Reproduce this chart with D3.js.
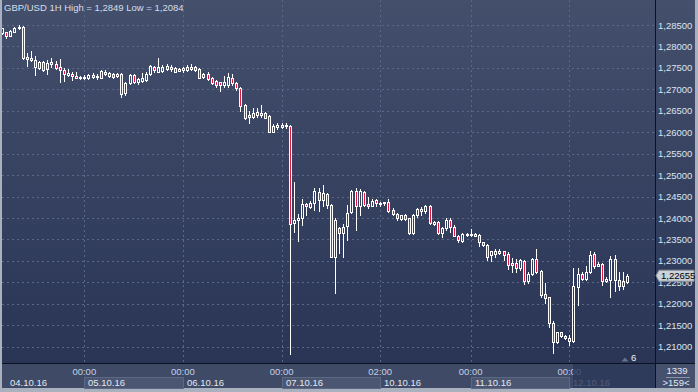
<!DOCTYPE html>
<html><head><meta charset="utf-8">
<script src="https://cdn.jsdelivr.net/npm/d3@7/dist/d3.min.js"></script>
<style>html,body{margin:0;padding:0;background:#a9b1be;}svg{display:block;}text{font-family:"Liberation Sans",Arial,sans-serif;}</style>
</head><body><svg id="c" width="698" height="392"></svg>
<script>
const title = "GBP/USD 1H High = 1,2849 Low = 1,2084";
const firstIndex = -20; // hours relative to 05.10.16 00:00
const opens = [1.2831,1.2833,1.2825,1.2834,1.2842,1.2846,1.2771,1.2774,1.2768,1.2749,1.2763,1.2747,1.2763,1.2759,1.2751,1.2744,1.2733,1.2735,1.2730,1.2727,
1.2727,1.2727,1.2733,1.2728,1.2727,1.2741,1.2731,1.2735,1.2730,1.2736,1.2691,1.2714,1.2733,1.2716,1.2720,1.2721,1.2735,1.2753,1.2741,1.2743,1.2747,1.2747,1.2750,1.2743,
1.2744,1.2745,1.2747,1.2751,1.2747,1.2729,1.2736,1.2726,1.2720,1.2716,1.2709,1.2709,1.2726,1.2714,1.2704,1.2664,1.2635,1.2635,1.2640,1.2640,1.2644,1.2638,1.2601,1.2613,
1.2613,1.2617,1.2614,1.2388,1.2396,1.2400,1.2432,1.2425,1.2435,1.2460,1.2442,1.2456,1.2431,1.2310,1.2376,1.2365,1.2382,1.2414,1.2463,1.2427,1.2460,1.2433,1.2429,1.2441,
1.2436,1.2434,1.2438,1.2419,1.2409,1.2398,1.2407,1.2400,1.2365,1.2406,1.2417,1.2417,1.2428,1.2386,1.2390,1.2365,1.2376,1.2396,1.2380,1.2358,1.2347,1.2361,
1.2361,1.2363,1.2361,1.2343,1.2337,1.2314,1.2317,1.2319,1.2322,1.2317,1.2296,1.2296,1.2283,1.2300,1.2254,1.2270,1.2304,1.2277,1.2223,1.2216,1.2156,1.2112,1.2134,1.2125,
1.2114,1.2114,1.2240,1.2270,1.2258,1.2273,1.2316,1.2289,1.2292,1.2254,1.2256,1.2304,1.2256,1.2242,1.2252];
const highs = [1.2843,1.2834,1.2838,1.2845,1.2849,1.2848,1.2785,1.2789,1.2778,1.2765,1.2766,1.2768,1.2774,1.2765,1.2771,1.2750,1.2747,1.2741,1.2740,1.2732,
1.2733,1.2736,1.2737,1.2735,1.2745,1.2745,1.2740,1.2738,1.2739,1.2739,1.2718,1.2736,1.2736,1.2727,1.2737,1.2741,1.2757,1.2755,1.2772,1.2757,1.2758,1.2757,1.2753,1.2750,
1.2751,1.2757,1.2758,1.2754,1.2749,1.2737,1.2741,1.2728,1.2722,1.2718,1.2730,1.2737,1.2735,1.2718,1.2706,1.2665,1.2650,1.2656,1.2657,1.2664,1.2647,1.2640,1.2619,1.2621,
1.2622,1.2621,1.2617,1.2484,1.2409,1.2445,1.2435,1.2440,1.2469,1.2471,1.2477,1.2459,1.2433,1.2400,1.2380,1.2386,1.2431,1.2466,1.2469,1.2468,1.2462,1.2448,1.2445,1.2445,
1.2438,1.2438,1.2445,1.2423,1.2411,1.2408,1.2409,1.2401,1.2409,1.2424,1.2426,1.2431,1.2431,1.2392,1.2392,1.2380,1.2400,1.2400,1.2384,1.2361,1.2365,1.2364,
1.2374,1.2365,1.2363,1.2345,1.2340,1.2324,1.2327,1.2327,1.2324,1.2320,1.2306,1.2304,1.2304,1.2302,1.2273,1.2306,1.2327,1.2279,1.2248,1.2217,1.2159,1.2135,1.2135,1.2128,
1.2128,1.2283,1.2283,1.2275,1.2287,1.2322,1.2320,1.2298,1.2295,1.2262,1.2312,1.2314,1.2275,1.2275,1.2270];
const lows = [1.2829,1.2819,1.2824,1.2833,1.2841,1.2771,1.2755,1.2766,1.2733,1.2747,1.2743,1.2736,1.2753,1.2747,1.2716,1.2720,1.2730,1.2721,1.2726,1.2724,
1.2724,1.2724,1.2726,1.2724,1.2726,1.2733,1.2728,1.2727,1.2728,1.2683,1.2687,1.2713,1.2714,1.2713,1.2717,1.2719,1.2733,1.2741,1.2740,1.2740,1.2745,1.2743,1.2740,1.2742,
1.2741,1.2743,1.2745,1.2743,1.2726,1.2727,1.2722,1.2712,1.2706,1.2695,1.2706,1.2706,1.2710,1.2699,1.2650,1.2631,1.2621,1.2633,1.2636,1.2636,1.2633,1.2600,1.2600,1.2608,
1.2609,1.2609,1.2084,1.2368,1.2347,1.2384,1.2407,1.2423,1.2419,1.2417,1.2427,1.2424,1.2309,1.2225,1.2318,1.2310,1.2349,1.2411,1.2372,1.2407,1.2429,1.2423,1.2427,1.2429,
1.2427,1.2431,1.2415,1.2407,1.2396,1.2396,1.2396,1.2362,1.2362,1.2403,1.2406,1.2411,1.2386,1.2384,1.2362,1.2355,1.2372,1.2368,1.2357,1.2345,1.2345,1.2357,
1.2358,1.2357,1.2335,1.2334,1.2302,1.2299,1.2310,1.2317,1.2302,1.2281,1.2275,1.2275,1.2279,1.2247,1.2248,1.2267,1.2271,1.2217,1.2202,1.2147,1.2086,1.2108,1.2122,1.2118,
1.2104,1.2112,1.2198,1.2256,1.2256,1.2271,1.2283,1.2287,1.2244,1.2250,1.2216,1.2229,1.2233,1.2234,1.2248];
const closes = [1.2842,1.2824,1.2837,1.2842,1.2846,1.2772,1.2775,1.2768,1.2751,1.2763,1.2745,1.2761,1.2758,1.2749,1.2744,1.2735,1.2737,1.2730,1.2727,1.2729,
1.2729,1.2733,1.2729,1.2731,1.2743,1.2736,1.2737,1.2729,1.2736,1.2689,1.2714,1.2733,1.2716,1.2723,1.2726,1.2735,1.2754,1.2745,1.2753,1.2753,1.2754,1.2751,1.2741,1.2747,
1.2749,1.2751,1.2751,1.2745,1.2727,1.2735,1.2724,1.2714,1.2709,1.2709,1.2716,1.2728,1.2714,1.2702,1.2660,1.2634,1.2640,1.2644,1.2648,1.2644,1.2634,1.2601,1.2615,1.2617,
1.2617,1.2614,1.2386,1.2396,1.2401,1.2432,1.2428,1.2435,1.2462,1.2442,1.2458,1.2431,1.2310,1.2396,1.2365,1.2380,1.2411,1.2463,1.2427,1.2462,1.2431,1.2429,1.2440,1.2436,
1.2433,1.2437,1.2417,1.2410,1.2400,1.2406,1.2398,1.2365,1.2407,1.2421,1.2421,1.2427,1.2388,1.2390,1.2365,1.2376,1.2396,1.2380,1.2358,1.2349,1.2363,1.2363,
1.2363,1.2359,1.2343,1.2337,1.2310,1.2322,1.2324,1.2322,1.2314,1.2291,1.2291,1.2284,1.2302,1.2254,1.2270,1.2304,1.2273,1.2221,1.2213,1.2156,1.2112,1.2134,1.2125,1.2120,
1.2121,1.2242,1.2270,1.2258,1.2275,1.2314,1.2289,1.2293,1.2254,1.2258,1.2304,1.2256,1.2242,1.2254,1.22655];
const lastPrice = "1,22655";
const timeTickIndex = [0, 24, 48, 72, 94, 118];
const timeTickLabels = ["00:00","00:00","00:00","02:00","00:00","00:00"];
const dateLabels = ["04.10.16","05.10.16","06.10.16","07.10.16","10.10.16","11.10.16","12.10.16"];
const priceTicks = [1.210,1.215,1.220,1.225,1.230,1.235,1.240,1.245,1.250,1.255,1.260,1.265,1.270,1.275,1.280,1.285];
const countLabel = "1339", rangeLabel = ">159<", markerLabel = "6";

const W = 698, H = 392, plotR = 655, plotB = 363, axisB = 388;
const svg = d3.select("#c");
const fmt = v => d3.format(".5f")(v).replace(".", ",");

const x = d3.scaleLinear().domain([0, 118]).range([84.3, 569.3]);
const y = d3.scaleLinear().domain([1.21, 1.285]).range([346.7, 25]);

const defs = svg.append("defs");
const g1 = defs.append("linearGradient").attr("id","bg").attr("x1",0).attr("y1",0).attr("x2",0).attr("y2",1);
g1.append("stop").attr("offset","0%").attr("stop-color","#434f6b");
g1.append("stop").attr("offset","100%").attr("stop-color","#2a3556");
defs.append("clipPath").attr("id","clip").append("rect").attr("x",2).attr("y",0).attr("width",plotR-2).attr("height",plotB);

// outer frame
svg.append("rect").attr("width",W).attr("height",H).attr("fill","#a9b1be");
svg.append("rect").attr("x",2).attr("y",0).attr("width",693).attr("height",plotB).attr("fill","url(#bg)");
svg.append("rect").attr("x",2).attr("y",plotB).attr("width",693).attr("height",axisB-plotB).attr("fill","#3f4a66");

// gridlines
svg.append("g").selectAll("line").data(priceTicks).join("line")
  .attr("x1",2).attr("x2",plotR).attr("y1",d=>Math.round(y(d))+0.5).attr("y2",d=>Math.round(y(d))+0.5)
  .attr("stroke","#5a6787").attr("stroke-dasharray","2,3");
svg.append("g").selectAll("line").data(timeTickIndex).join("line")
  .attr("x1",d=>Math.round(x(d))+0.5).attr("x2",d=>Math.round(x(d))+0.5).attr("y1",0).attr("y2",plotB)
  .attr("stroke","#5a6787").attr("stroke-dasharray","2,3");

// candles
const data = opens.map((o,i)=>({i:firstIndex+i,o,h:highs[i],l:lows[i],c:closes[i]}));
const cg = svg.append("g").attr("clip-path","url(#clip)");
data.forEach(d=>{
  const cx = Math.round(x(d.i));
  const top = Math.round(y(Math.max(d.o,d.c)));
  let bot = Math.round(y(Math.min(d.o,d.c)));
  if (bot - top < 1) bot = top + 1;
  const yh = Math.round(y(d.h)), yl = Math.round(y(d.l));
  const up = d.c >= d.o;
  if (yh < top) cg.append("line").attr("x1",cx+0.5).attr("x2",cx+0.5).attr("y1",yh).attr("y2",top).attr("stroke","#fff");
  if (yl > bot) cg.append("line").attr("x1",cx+0.5).attr("x2",cx+0.5).attr("y1",bot).attr("y2",yl+1).attr("stroke","#fff");
  cg.append("rect").attr("x",cx-0.5).attr("y",top+0.5).attr("width",2).attr("height",bot-top)
    .attr("fill", up ? "none" : "#e3183f").attr("stroke","#fff").attr("stroke-width",1);
});

// title
svg.append("text").attr("x",4).attr("y",11).attr("fill","#d6deea").attr("font-size",9.5).text(title);

// separators
svg.append("line").attr("x1",plotR+0.5).attr("x2",plotR+0.5).attr("y1",0).attr("y2",axisB).attr("stroke","#0d1220");
svg.append("line").attr("x1",2).attr("x2",695).attr("y1",plotB+0.5).attr("y2",plotB+0.5).attr("stroke","#0d1220");

// price labels
svg.append("g").selectAll("text").data(priceTicks).join("text")
  .attr("x",658).attr("y",d=>y(d)+3.5).attr("fill","#dde4ef").attr("font-size",9.5).text(fmt);

// current price marker
const yp = y(closes[closes.length-1]);
svg.append("path").attr("d",`M${plotR+1},${yp} L${plotR+4},${yp-5.5} L694,${yp-5.5} L694,${yp+5.5} L${plotR+4},${yp+5.5} Z`)
  .attr("fill","#cdd1d8").attr("stroke","#8a919c");
svg.append("text").attr("x",661).attr("y",yp+3.5).attr("fill","#000").attr("font-size",9.5).text(lastPrice);

// marker "6"
svg.append("path").attr("d","M621.5,361.5 L625,357.5 L628.5,361.5 Z").attr("fill","#66728c");
svg.append("text").attr("x",631).attr("y",361).attr("fill","#f0f3f8").attr("font-size",9.5).text(markerLabel);

// bottom axis: date boxes
const bounds = [2, ...timeTickIndex.map(d=>Math.round(x(d)))];
const boxed = [false,true,false,true,false,true,false];
dateLabels.forEach((lab,k)=>{
  const x0 = bounds[k], x1 = k+1<bounds.length ? bounds[k+1] : plotR;
  if (boxed[k]) {
    svg.append("rect").attr("x",x0+0.5).attr("y",377.5).attr("width",x1-x0).attr("height",11).attr("fill","#4b5772").attr("stroke","#5d6983");
  }
});
svg.append("g").selectAll("text").data(timeTickIndex).join("text")
  .attr("x",d=>x(d)).attr("y",375).attr("text-anchor","middle").attr("fill","#c3d0e6").attr("font-size",9.5)
  .text((d,i)=>timeTickLabels[i]);
svg.append("g").selectAll("text").data(dateLabels).join("text")
  .attr("x",(d,k)=> k===0 ? 10 : bounds[k]+4).attr("y",386).attr("fill","#e2e8f1").attr("font-size",9.5).text(d=>d);
// current day shade
svg.append("rect").attr("x",Math.round(x(118))+4).attr("y",plotB+1).attr("width",plotR-Math.round(x(118))-4).attr("height",axisB-plotB-1)
  .attr("fill","#2c3757").attr("opacity",0.8);

// bottom-right cell
svg.append("rect").attr("x",plotR+1).attr("y",plotB+1).attr("width",695-plotR-1).attr("height",axisB-plotB-1).attr("fill","#46526d");
svg.append("text").attr("x",677).attr("y",374).attr("text-anchor","middle").attr("fill","#e2e8f1").attr("font-size",9.5).text(countLabel);
svg.append("line").attr("x1",666).attr("x2",690).attr("y1",377.5).attr("y2",377.5).attr("stroke","#8a94a8");
svg.append("text").attr("x",676).attr("y",386).attr("text-anchor","middle").attr("fill","#e2e8f1").attr("font-size",9.5).text(rangeLabel);
</script></body></html>
